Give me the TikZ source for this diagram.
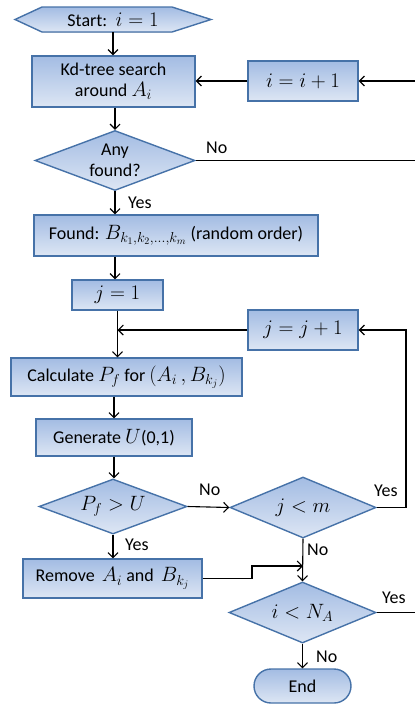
\documentclass[tikz,border=0pt]{standalone}
\usepackage{fontspec}
\setmainfont{Carlito}
\usetikzlibrary{shapes.geometric,arrows.meta}
\definecolor{bordc}{HTML}{4672A8}
\definecolor{topc}{HTML}{A3BCE3}
\definecolor{botc}{HTML}{DDE6F4}
\newcommand\mm[1]{{\fontsize{20}{22}\selectfont$#1$}}
\tikzset{
  fillshade/.style={top color=topc,bottom color=botc,draw=bordc,line width=1.4pt},
  procbox/.style={fillshade,rectangle,inner sep=0pt,align=center},
  decision/.style={fillshade,diamond,inner sep=0pt},
  conn/.style={line width=1.1pt,-{Straight Barb[length=5pt,width=10pt,line width=1.1pt]}},
  plainline/.style={line width=1.1pt},
  lbl/.style={inner sep=0pt},
  ctext/.style={label={[align=center,inner sep=0pt]center:#1}}
}
\begin{document}
\begin{tikzpicture}[x=1pt,y=-1pt,font=\fontsize{18}{22}\selectfont]
\useasboundingbox (0,0) rectangle (415,705);
\clip (0,0) rectangle (415,705);
% start hexagon
\filldraw[fillshade] (15,19.5) -- (42,7) -- (172,7) -- (211,19.5) -- (172,32) -- (42,32) -- cycle;
\node[inner sep=0pt,minimum width=130,minimum height=25] (start) at (113,19.5) {Start:\, \mm{i=1}};
\node[procbox,minimum width=163,minimum height=51] (kd) at (113.5,81.5) {Kd-tree search\\[-1pt]around \mm{A_i}};
\node[procbox,minimum width=110,minimum height=40] (iinc) at (303,81) {\mm{i=i+1}};
\node[decision,minimum width=160,minimum height=60,ctext={Any\\[-1pt]found?}] (any) at (115,160.5) {};
\node[procbox,minimum width=284,minimum height=41] (found) at (176,235.5) {Found: \mm{B_{k_1,k_2,\ldots,k_m}} (random order)};
\node[procbox,minimum width=91,minimum height=30] (jone) at (117.5,295) {\mm{j=1}};
\node[procbox,minimum width=110,minimum height=40] (jinc) at (303,330) {\mm{j=j+1}};
\node[procbox,minimum width=231,minimum height=38] (calc) at (126.5,377) {Calculate \mm{P_f} for \mm{(A_i\,,B_{k_j})}};
\node[procbox,minimum width=156,minimum height=37] (gen) at (114,437.5) {Generate \mm{U}(0,1)};
\node[decision,minimum width=148,minimum height=55,ctext={\mm{P_f>U}}] (pf) at (113,506.5) {};
\node[decision,minimum width=146,minimum height=61,ctext={\mm{j<m}}] (jm) at (303,507.5) {};
\node[procbox,minimum width=179,minimum height=39] (rem) at (112.5,578.5) {Remove\, \mm{A_i} and\, \mm{B_{k_j}}};
\node[decision,minimum width=147,minimum height=61,ctext={\mm{i<N_A}}] (ina) at (302.5,612.5) {};
\node[procbox,rounded corners=17pt,minimum width=97,minimum height=34] (end) at (302.5,686) {End};
\coordinate (merge) at (303,566);
% connectors
\draw[conn] (start.south) -- (start.south |- kd.north);
\draw[conn] (iinc.west) -- (kd.east |- iinc.west);
\draw[conn] (425,81) -- (iinc.east);
\draw[conn] (any.north |- kd.south) -- (any.north);
\draw[plainline] (any.east) -- (425,160.5);
\draw[conn] (any.south) -- (any.south |- found.north);
\draw[conn] (any.south |- found.south) -- (any.south |- jone.north);
\draw[conn] (jone.south) -- (jone.south |- calc.north);
\draw[conn] (jinc.west) -- (jone.south |- jinc.west);
\draw[conn] (calc.south -| gen.north) -- (gen.north);
\draw[conn] (gen.south) -- (gen.south |- pf.north);
\draw[conn] (pf.east) -- (jm.west);
\draw[conn] (jm.east) -- (406,507.5) |- (jinc.east);
\draw[conn] (pf.south) -- (pf.south |- rem.north);
\draw[conn] (rem.east) -- (252,578.5) -- (252,566) -- (merge);
\draw[conn] (jm.south) -- (ina.north);
\draw[plainline] (ina.east) -- (425,612.5);
\draw[conn] (ina.south) -- (end.north);
% labels
\node[lbl,anchor=west] (l1) at (206,148) {No};
\node[lbl,anchor=west] (l2) at (128,203) {Yes};
\node[lbl,anchor=west] (l3) at (199,490) {No};
\node[lbl,anchor=west] (l4) at (125,545) {Yes};
\node[lbl,anchor=west] (l5) at (374,491) {Yes};
\node[lbl,anchor=west] (l6) at (307,550) {No};
\node[lbl,anchor=west] (l7) at (382,598) {Yes};
\node[lbl,anchor=west] (l8) at (316,657) {No};
\end{tikzpicture}
\end{document}
